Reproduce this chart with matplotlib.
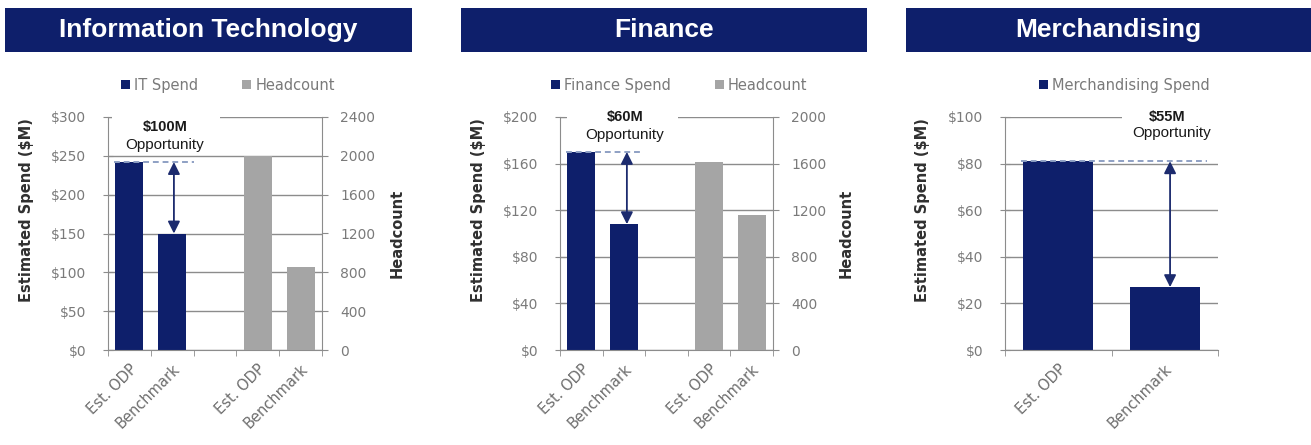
import matplotlib.pyplot as plt
from matplotlib.patches import Rectangle

plt.rcParams['font.family'] = ['DejaVu Sans']
SANS = ['Liberation Sans', 'DejaVu Sans']

NAVY = '#0e1f6b'
GRAY_BAR = '#a5a5a5'
GRID = '#8c8c8c'
TICK_TXT = '#7a7a7a'
DASH = '#8ea0c4'

# spend in $M, headcount in people: [Est. ODP, Benchmark]
categories = ['Est. ODP', 'Benchmark']
it_spend = [242, 150]
it_headcount = [2000, 850]
fin_spend = [170, 108]
fin_headcount = [1610, 1160]
merch_spend = [81, 27]

titles = ['Information Technology', 'Finance', 'Merchandising']
opportunity = ['$100M', '$60M', '$55M']

W, H = 1311, 445


def px_box(x0, x1, y_top, y_bottom):
    # pixel rectangle -> figure fraction [left, bottom, width, height]
    return [x0 / W, (H - y_bottom) / H, (x1 - x0) / W, (y_bottom - y_top) / H]


def banner(fig, x0, x1, text):
    l, b, w, h = px_box(x0, x1, 8, 52)
    fig.patches.append(Rectangle((l, b), w, h, transform=fig.transFigure,
                                 facecolor=NAVY, edgecolor='none'))
    fig.text(l + w / 2, b + h / 2, text, color='white', fontsize=19,
             fontweight='bold', ha='center', va='center', family=SANS)


def style_axes(ax, n_slots, ymax, step, fmt, labels_at):
    ax.set_xlim(-0.5, n_slots - 0.5)
    ax.set_ylim(0, ymax)
    ax.set_yticks(range(0, ymax + 1, step))
    ax.set_yticklabels([fmt.format(v) for v in range(0, ymax + 1, step)])
    for s in ['top', 'right']:
        ax.spines[s].set_visible(False)
    for s in ['left', 'bottom']:
        ax.spines[s].set_color(GRID)
    ax.set_axisbelow(True)
    ax.yaxis.grid(True, color=GRID, lw=1)
    ax.tick_params(axis='y', direction='inout', length=7, color=GRID,
                   labelcolor=TICK_TXT, labelsize=10, pad=12)
    ax.set_xticks([i - 0.5 for i in range(n_slots + 1)], minor=True)
    ax.set_xticks(labels_at)
    ax.set_xticklabels(categories * (len(labels_at) // 2), rotation=45,
                       ha='right', va='top', rotation_mode='anchor',
                       fontsize=10.5, color='#6e6e6e')
    ax.tick_params(axis='x', which='major', length=0, pad=8)
    ax.tick_params(axis='x', which='minor', length=4, color=GRID)
    ax.set_ylabel('Estimated Spend ($M)', fontsize=10.5, fontweight='bold',
                  color='#303030')


def gap_marker(ax, spend, x_arrow, x_end, label, box, label_x, label_y):
    ax.hlines(spend[0], -0.35, x_end, colors=DASH, linestyles=(0, (3, 2)),
              lw=1.4, zorder=3)
    ax.annotate('', xy=(x_arrow, spend[1]), xytext=(x_arrow, spend[0]),
                arrowprops=dict(arrowstyle='<|-|>', color='#1c2b6e', lw=1.3,
                                mutation_scale=18, shrinkA=0, shrinkB=0),
                zorder=4)
    bx0, bx1, by0, by1 = box
    ax.add_patch(Rectangle((bx0, by0), bx1 - bx0, by1 - by0,
                           transform=ax.transAxes, facecolor='white',
                           edgecolor='none', zorder=1, clip_on=False))
    ax.text(label_x[0], label_y[0], label, transform=ax.transAxes,
            ha='center', va='center', fontsize=10.5, fontweight='bold',
            color='#1a1a1a', zorder=5, family=SANS)
    ax.text(label_x[1], label_y[1], 'Opportunity', transform=ax.transAxes,
            ha='center', va='center', fontsize=11, color='#1a1a1a',
            zorder=5, family=SANS)


def spend_headcount_panel(fig, rect, spend, headcount, spend_name, ymax,
                          ystep, hmax, hstep, label, box, label_x, label_y,
                          x_arrow, x_end, legend_x, ylab_x):
    ax = fig.add_axes(rect)
    b1 = ax.bar([0, 1], spend, width=0.65, color=NAVY, zorder=2)
    style_axes(ax, 5, ymax, ystep, '${}', [0, 1, 3, 4])
    ax.yaxis.set_label_coords(ylab_x[0], 0.6)

    ax2 = ax.twinx()
    b2 = ax2.bar([3, 4], headcount, width=0.65, color=GRAY_BAR, zorder=2)
    ax2.set_ylim(0, hmax)
    ax2.set_yticks(range(0, hmax + 1, hstep))
    for s in ['top', 'left', 'bottom']:
        ax2.spines[s].set_visible(False)
    ax2.spines['right'].set_color(GRID)
    ax2.tick_params(axis='y', direction='out', length=4, color=GRID,
                    labelcolor=TICK_TXT, labelsize=10, pad=9)
    ax2.set_ylabel('Headcount', fontsize=10.5, fontweight='bold',
                   color='#303030')
    ax2.yaxis.set_label_coords(ylab_x[1], 0.5)

    gap_marker(ax, spend, x_arrow, x_end, label, box, label_x, label_y)

    ax2.legend([b1, b2], [spend_name, 'Headcount'], loc='center',
               bbox_to_anchor=(legend_x, 1.137), ncol=2, frameon=False,
               handlelength=0.6, handleheight=0.6, handletextpad=0.3,
               columnspacing=3.0, fontsize=10.5, labelcolor=TICK_TXT)
    return ax


fig = plt.figure(figsize=(W / 100, H / 100), dpi=100)

banner(fig, 5, 412, titles[0])
banner(fig, 461, 867, titles[1])
banner(fig, 906, 1311, titles[2])

spend_headcount_panel(fig, px_box(108, 322, 117, 350), it_spend, it_headcount,
                      'IT Spend', 300, 50, 2400, 400, opportunity[0],
                      (0.019, 0.523, 0.85, 1.017), (0.266, 0.266),
                      (0.957, 0.88), 1.04, 1.5, 0.56, (-0.346, 1.315))

spend_headcount_panel(fig, px_box(560, 773, 117, 350), fin_spend,
                      fin_headcount, 'Finance Spend', 200, 40, 2000, 400,
                      opportunity[1], (0.033, 0.554, 0.88, 1.03),
                      (0.305, 0.305), (1.0, 0.923), 1.07, 1.45, 0.56,
                      (-0.347, 1.31))

# merchandising has no headcount series
ax3 = fig.add_axes(px_box(1005, 1218, 117, 350))
b3 = ax3.bar([0, 1], merch_spend, width=0.66, color=NAVY, zorder=2)
style_axes(ax3, 2, 100, 20, '${}', [0, 1])
ax3.yaxis.set_label_coords(-0.352, 0.6)
gap_marker(ax3, merch_spend, 1.05, 1.4, opportunity[2],
           (0.55, 1.0, 0.893, 1.03), (0.76, 0.78), (1.0, 0.931))
ax3.legend([b3], ['Merchandising Spend'], loc='center',
           bbox_to_anchor=(0.56, 1.137), frameon=False, handlelength=0.6,
           handleheight=0.6, handletextpad=0.3, fontsize=10.5,
           labelcolor=TICK_TXT)

fig.savefig('out.png', dpi=100)
